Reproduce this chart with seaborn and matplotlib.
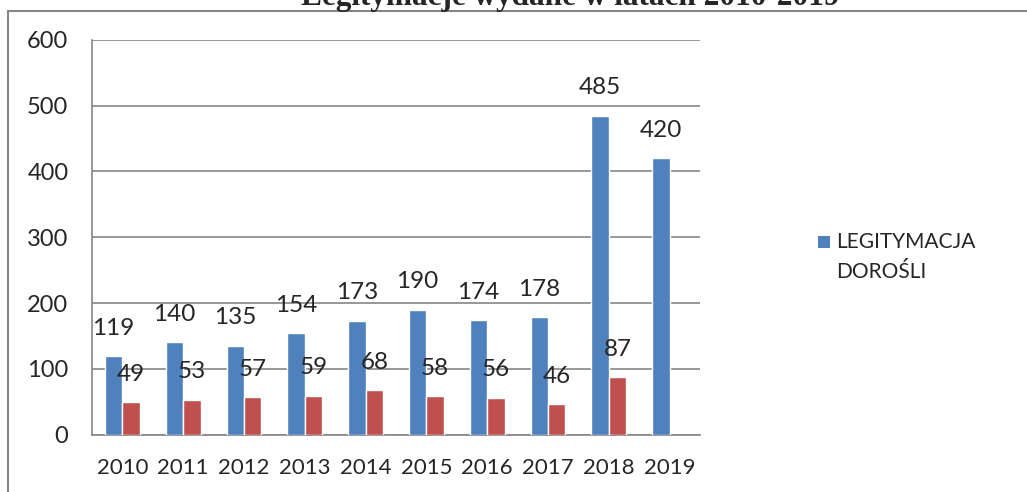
import numpy as np
import pandas as pd
import matplotlib
matplotlib.use("Agg")
import matplotlib.pyplot as plt
from matplotlib.patches import Rectangle
import seaborn as sns

# DATA
years = ["2010", "2011", "2012", "2013", "2014", "2015", "2016", "2017", "2018", "2019"]
adults = [119, 140, 135, 154, 173, 190, 174, 178, 485, 420]
second = [49, 53, 57, 59, 68, 58, 56, 46, 87, np.nan]
series_names = ["LEGITYMACJA DOROŚLI", "druga"]
legend_lines = ["LEGITYMACJA", "DOROŚLI"]
title = "Legitymacje wydane w latach 2010-2019"

colors = ["#4F81BD", "#C0504D"]
axis_gray = "#868686"

df = pd.DataFrame({
    "rok": years * 2,
    "liczba": adults + second,
    "seria": [series_names[0]] * len(years) + [series_names[1]] * len(years),
})

sns.set_style("white")
plt.rcParams["font.family"] = ["Lato", "DejaVu Sans"]

W, H = 1027, 492
fig = plt.figure(figsize=(W / 100, H / 100), dpi=100)
ax = fig.add_axes([92 / W, 1 - 434.5 / H, (700 - 92) / W, (434.5 - 40) / H])

sns.barplot(data=df, x="rok", y="liczba", hue="seria", palette=colors,
            width=0.575, saturation=1, ax=ax, legend=False, zorder=3)

# data labels
for cont in ax.containers:
    for bar in cont:
        h = bar.get_height()
        if np.isnan(h):
            continue
        ax.annotate(f"{h:.0f}", (bar.get_x() + bar.get_width() / 2, h),
                    xytext=(0, 20), textcoords="offset points",
                    ha="center", va="center", fontsize=17.5)

ax.set_ylim(0, 600)
ax.set_xlim(-0.5, len(years) - 0.5)
ax.set_yticks(range(0, 601, 100))
ax.set_xlabel("")
ax.set_ylabel("")
ax.yaxis.grid(True, color=axis_gray, linewidth=1.2, zorder=0)
ax.set_axisbelow(True)
for s in ["top", "right"]:
    ax.spines[s].set_visible(False)
for s in ["left", "bottom"]:
    ax.spines[s].set_color(axis_gray)
    ax.spines[s].set_linewidth(1.2)

# x ticks at group boundaries, labels centered
ax.set_xticks(np.arange(-0.5, len(years), 1.0))
ax.set_xticklabels([])
ax.set_xticks(range(len(years)), minor=True)
ax.set_xticklabels(years, minor=True, fontsize=16)
ax.tick_params(axis="x", which="major", length=8, width=1.2, color=axis_gray, direction="out")
ax.tick_params(axis="x", which="minor", length=0, pad=17)
ax.tick_params(axis="y", length=9, width=1.2, color=axis_gray, labelsize=17, pad=8)

# legend (only first series shown), marker next to the first line
fig.add_artist(Rectangle((818 / W, 1 - 248 / H), 12 / W, 12 / H,
                         transform=fig.transFigure, facecolor=colors[0],
                         edgecolor="none"))
for i, line in enumerate(legend_lines):
    fig.text(836 / W, 1 - (242 + 30 * i) / H, line, ha="left", va="center",
             fontsize=15)

# title (clipped at top, as in the source)
fig.text(570 / W, 1 - 5 / H, title, ha="center", va="baseline",
         fontsize=22.5, fontweight="bold", family="Liberation Serif")

# outer chart frame
fig.add_artist(Rectangle((8 / W, -0.1), 1.2, 1.1 - 11 / H,
                         transform=fig.transFigure, fill=False,
                         edgecolor=axis_gray, linewidth=1.5))

fig.savefig("out.png", dpi=100)
